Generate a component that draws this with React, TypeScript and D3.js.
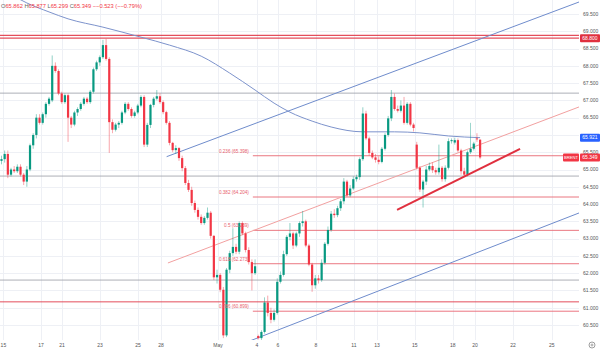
import React from "react";
import * as d3 from "d3";

// 4h candles, Brent, [open, high, low, close]
const ohlc: number[][] = [
  [65.25, 65.4, 65.15, 65.3], [65.3, 65.55, 65.2, 65.45], [65.45, 65.55, 64.75, 64.85],
  [64.85, 65.05, 64.8, 65.0], [65.0, 65.1, 64.9, 64.95], [64.95, 65.15, 64.9, 65.08],
  [65.08, 65.15, 64.8, 64.85], [64.85, 64.9, 64.55, 64.65], [64.65, 65.1, 64.5, 65.0],
  [65.0, 65.75, 64.95, 65.7], [65.7, 66.05, 65.6, 66.0], [66.0, 66.6, 65.9, 66.5],
  [66.5, 66.6, 66.3, 66.35], [66.35, 66.65, 66.3, 66.6], [66.6, 66.95, 66.5, 66.9],
  [66.9, 67.1, 66.85, 67.05], [67.0, 68.3, 66.95, 68.0], [68.0, 68.1, 67.8, 67.85],
  [67.85, 67.9, 67.15, 67.2], [67.2, 67.25, 66.9, 66.95], [66.95, 67.2, 66.9, 67.15],
  [67.15, 67.2, 65.8, 66.5], [66.5, 66.55, 66.2, 66.3], [66.3, 66.7, 66.25, 66.65],
  [66.65, 66.8, 66.55, 66.75], [66.75, 66.95, 66.7, 66.9], [66.9, 67.1, 66.85, 67.05],
  [67.05, 67.1, 66.9, 66.95], [66.95, 67.3, 66.9, 67.25], [67.25, 67.95, 67.2, 67.9],
  [67.9, 68.15, 67.85, 68.1], [68.1, 68.3, 68.0, 68.25], [68.25, 68.75, 68.2, 68.6],
  [68.6, 68.78, 68.15, 68.2], [68.2, 68.25, 65.48, 66.37], [66.37, 66.45, 66.05, 66.15],
  [66.15, 66.35, 66.1, 66.3], [66.3, 66.4, 66.2, 66.35], [66.35, 66.7, 66.3, 66.65],
  [66.65, 66.95, 66.6, 66.9], [66.9, 66.95, 66.7, 66.75], [66.75, 66.8, 66.5, 66.55],
  [66.55, 66.7, 66.5, 66.65], [66.65, 66.9, 66.6, 66.85], [66.85, 67.15, 66.8, 67.1],
  [67.1, 67.15, 65.65, 65.72], [65.72, 66.35, 65.65, 66.29], [66.29, 66.9, 66.2, 66.87],
  [66.87, 67.1, 66.8, 67.05], [67.05, 67.3, 67.0, 67.12], [67.12, 67.2, 66.9, 66.95],
  [66.95, 67.0, 66.6, 66.66], [66.66, 66.7, 66.3, 66.35], [66.35, 66.4, 65.7, 65.77],
  [65.77, 65.8, 65.5, 65.56], [65.56, 65.7, 65.45, 65.62], [65.62, 65.65, 65.25, 65.33],
  [65.33, 65.4, 64.95, 65.04], [65.04, 65.1, 64.55, 64.61], [64.61, 64.7, 64.35, 64.41],
  [64.41, 64.5, 63.95, 64.03], [64.03, 64.1, 63.75, 63.83], [63.83, 63.9, 63.55, 63.63],
  [63.63, 63.7, 63.4, 63.45], [63.45, 63.65, 63.4, 63.6], [63.6, 63.9, 63.55, 63.75],
  [63.75, 63.8, 63.0, 63.08], [63.08, 63.1, 61.8, 61.88], [61.88, 62.1, 61.7, 61.95],
  [61.95, 62.0, 61.45, 61.52], [61.52, 61.6, 60.12, 60.2], [60.2, 62.15, 60.15, 62.1],
  [62.1, 62.65, 62.0, 62.58], [62.58, 63.3, 62.5, 62.76], [62.76, 62.85, 62.55, 62.62],
  [62.62, 63.5, 62.55, 63.45], [63.45, 63.5, 63.1, 63.15], [63.15, 63.2, 62.6, 62.67],
  [62.67, 62.75, 62.25, 62.32], [62.32, 62.4, 61.5, 62.0], [62.0, 62.4, 61.95, 62.2],
  [60.18, 60.22, 60.08, 60.12], [60.12, 60.35, 60.05, 60.3], [60.3, 61.3, 60.25, 61.15],
  [61.15, 61.35, 60.75, 60.85], [60.85, 61.0, 60.55, 60.65], [60.65, 60.95, 60.6, 60.85],
  [60.85, 61.85, 60.8, 61.75], [61.75, 62.05, 61.7, 61.95], [61.95, 62.65, 61.9, 62.55],
  [62.55, 63.1, 62.5, 63.05], [63.05, 63.45, 62.95, 63.15], [63.15, 63.2, 62.7, 62.8],
  [62.8, 63.2, 62.75, 63.15], [63.15, 63.5, 63.05, 63.45], [63.45, 63.8, 63.35, 63.5],
  [63.5, 63.55, 62.75, 62.8], [62.8, 62.85, 62.2, 62.25], [62.25, 62.3, 61.46, 61.65],
  [61.65, 61.95, 61.55, 61.85], [61.85, 61.95, 61.7, 61.8], [61.8, 62.4, 61.75, 62.3],
  [62.3, 62.9, 62.25, 62.85], [62.85, 63.35, 62.8, 63.25], [63.25, 63.8, 63.2, 63.72],
  [63.72, 63.85, 63.6, 63.68], [63.68, 63.95, 63.62, 63.88], [63.88, 64.15, 63.8, 64.08],
  [64.08, 64.75, 64.0, 64.65], [64.65, 64.7, 64.2, 64.25], [64.25, 64.55, 64.2, 64.45],
  [64.45, 64.8, 64.4, 64.72], [64.72, 64.85, 64.65, 64.78], [64.78, 65.35, 64.7, 65.3],
  [65.3, 66.8, 65.25, 66.62], [66.62, 66.7, 65.85, 65.9], [65.9, 65.95, 65.4, 65.48],
  [65.48, 65.55, 65.3, 65.35], [65.35, 65.45, 65.2, 65.28], [65.28, 65.38, 65.15, 65.22],
  [65.22, 65.65, 65.18, 65.6], [65.6, 66.05, 65.55, 66.0], [66.0, 66.55, 65.95, 66.48],
  [66.48, 67.3, 66.4, 67.1], [67.1, 67.2, 66.7, 66.75], [66.75, 66.85, 66.65, 66.7],
  [66.7, 67.0, 66.65, 66.85], [66.85, 67.1, 66.3, 66.35], [66.35, 66.95, 66.3, 66.9],
  [66.9, 66.95, 66.25, 66.3], [66.3, 66.35, 66.1, 66.2], [65.72, 65.8, 65.0, 65.05],
  [65.05, 65.1, 64.35, 64.42], [64.42, 64.7, 63.9, 64.65], [64.65, 65.1, 64.55, 65.0],
  [65.0, 65.2, 64.95, 65.1], [65.1, 65.2, 64.9, 64.98], [64.98, 65.05, 64.85, 64.92],
  [64.92, 65.72, 64.85, 65.05], [65.05, 65.1, 64.65, 64.72], [64.72, 65.12, 64.65, 65.05],
  [65.05, 65.9, 65.0, 65.82], [65.82, 65.9, 65.75, 65.85], [65.78, 65.92, 65.72, 65.85],
  [65.85, 65.9, 65.5, 65.55], [65.55, 65.6, 64.85, 64.95], [64.95, 65.05, 64.78, 64.85],
  [64.85, 65.55, 64.8, 65.5], [65.5, 66.35, 65.45, 65.6], [65.6, 65.8, 65.55, 65.75],
  [65.9, 66.05, 65.8, 65.872], [65.862, 65.877, 65.299, 65.349],
];

// moving average, read at a few bars
const maIndex = [5, 8, 15, 21, 32, 44, 53, 63, 72, 80, 86, 91, 98, 104, 114, 124, 132, 141, 151];
const maValue = [69.96, 69.82, 69.56, 69.36, 69.12, 68.83, 68.6, 68.28, 67.79, 67.3, 66.92, 66.66, 66.4, 66.23, 66.09, 66.09, 66.06, 65.97, 65.921];

const dayLabels = ["15", "17", "21", "23", "25", "28", "May", "4", "6", "8", "11", "13", "15", "18", "20", "22", "25"];
const dayIndex = [0.6, 12.5, 19.1, 31.1, 43.1, 50.3, 68.3, 80.6, 87.2, 99.2, 111.2, 118.5, 130.4, 142.4, 149.4, 161.4, 173.6];

const priceTicks = d3.range(60.5, 69.51, 0.5);

const fibRatios = ["0.236", "0.382", "0.5", "0.618", "0.786"];
const fibPrices = [65.398, 64.204, 63.239, 62.273, 60.899];
const fibStart = 79.3;

const grayLevels = [67.21, 64.81, 61.8];
const redLevels = [68.88, 68.8, 61.17];
const alertPrice = 68.8;

// trend lines as [bar index, price]
const upperChannel = [[52.1, 65.371], [182.2, 69.847]];
const midChannel = [[52.5, 62.295], [182.2, 66.81]];
const lowerChannel = [[78.4, 60.04], [182.2, 63.742]];
const supportLine = [[124.8, 63.829], [163.6, 65.594]];

const UP = "#089981";
const DOWN = "#f23645";
const plotW = 579;
const plotH = 340;

const x = d3.scaleLinear().domain([0, 182.2]).range([1.5, 579]);
const y = d3.scaleLinear().domain([60.5, 69.5]).range([325, 14]);

const seg = d3.line<number[]>().x((d) => x(d[0])).y((d) => y(d[1]));

export default function App() {
  const last = ohlc[ohlc.length - 1];
  const prev = ohlc[ohlc.length - 2];
  const chg = last[3] - prev[3];
  const pct = (chg / prev[3]) * 100;
  const maLast = maValue[maValue.length - 1];
  const f3 = d3.format(".3f");
  const sgn = (v: number, s: string) => (v < 0 ? "\u2212" + s.replace("-", "") : "+" + s);

  const maPath = d3
    .line<number>()
    .x((d, i) => x(maIndex[i]))
    .y((d) => y(d))
    .curve(d3.curveMonotoneX)(maValue);

  // axis labels hidden behind the price boxes
  const boxes = [alertPrice, maLast, last[3]];
  const axisTicks = priceTicks.filter((p) => boxes.every((b) => Math.abs(y(p) - y(b)) > 5));

  const font = "'Liberation Sans', Arial, sans-serif";

  return (
    <svg
      width={600}
      height={353}
      style={{ position: "absolute", left: 0, top: 0, background: "#fff" }}
      fontFamily={font}
    >
      <defs>
        <clipPath id="plot">
          <rect x={0} y={0} width={plotW} height={plotH} />
        </clipPath>
      </defs>
      <rect width={600} height={353} fill="#fff" />

      {/* grid */}
      <g stroke="#eef0f5" strokeWidth={1}>
        {priceTicks.map((p) => (
          <line key={"h" + p} x1={0} x2={plotW} y1={Math.round(y(p)) + 0.5} y2={Math.round(y(p)) + 0.5} />
        ))}
        {dayIndex.map((d, i) => (
          <line key={"v" + i} x1={Math.round(x(d)) + 0.5} x2={Math.round(x(d)) + 0.5} y1={0} y2={plotH} />
        ))}
      </g>

      <g clipPath="url(#plot)">
        {/* horizontal levels */}
        {grayLevels.map((p) => (
          <line key={"g" + p} x1={0} x2={plotW} y1={y(p)} y2={y(p)} stroke="#9a9ca6" strokeWidth={1} opacity={0.8} />
        ))}
        {redLevels.map((p, i) => (
          <line key={"r" + p} x1={0} x2={plotW} y1={y(p)} y2={y(p)} stroke="#e03040" strokeWidth={i < 2 ? 1.2 : 1} opacity={0.85} />
        ))}
        {fibPrices.map((p) => (
          <line key={"f" + p} x1={x(fibStart)} x2={plotW} y1={y(p)} y2={y(p)} stroke="#e8606c" strokeWidth={1} opacity={0.85} />
        ))}

        {/* moving average */}
        <path d={maPath || ""} fill="none" stroke="#7d93cc" strokeWidth={1} />

        {/* channel lines */}
        <path d={seg(upperChannel) || ""} stroke="#6f8ccc" strokeWidth={1} fill="none" />
        <path d={seg(lowerChannel) || ""} stroke="#6f8ccc" strokeWidth={1} fill="none" />
        <path d={seg(midChannel) || ""} stroke="#f2a0a0" strokeWidth={1} fill="none" />

        {/* candles */}
        {ohlc.map((c, i) => {
          const [o, h, l, cl] = c;
          const col = cl >= o ? UP : DOWN;
          const cx = x(i);
          const top = y(Math.max(o, cl));
          const bh = Math.max(1, y(Math.min(o, cl)) - top);
          return (
            <g key={i}>
              <line x1={cx} x2={cx} y1={y(h)} y2={y(l)} stroke={col} strokeWidth={0.8} opacity={0.55} />
              <rect x={cx - 1.1} y={top} width={2.2} height={bh} fill={col} />
            </g>
          );
        })}

        {/* support line */}
        <path d={seg(supportLine) || ""} stroke="#e0303f" strokeWidth={2} fill="none" />
      </g>

      {/* fib labels */}
      {fibPrices.map((p, i) => (
        <text key={"fl" + p} x={x(fibStart) - 4} y={y(p) - 3} fontSize={4.6} fill="#e8606c" textAnchor="end">
          {fibRatios[i]} ({f3(p)})
        </text>
      ))}

      {/* price axis */}
      {axisTicks.map((p) => (
        <text key={"pt" + p} x={583} y={y(p) + 1.8} fontSize={5} fill="#555">
          {f3(p)}
        </text>
      ))}

      {/* time axis */}
      {dayLabels.map((d, i) => (
        <text key={"dt" + i} x={x(dayIndex[i])} y={347} fontSize={5} fill="#555" textAnchor="middle">
          {d}
        </text>
      ))}

      {/* price boxes */}
      <rect x={580} y={y(alertPrice) - 4} width={20} height={8} fill="#e0303f" rx={1} />
      <text x={590} y={y(alertPrice) + 1.8} fontSize={5} fill="#fff" textAnchor="middle">{f3(alertPrice)}</text>

      <rect x={580} y={y(maLast) - 4} width={20} height={8} fill="#2962ff" rx={1} />
      <text x={590} y={y(maLast) + 1.8} fontSize={5} fill="#fff" textAnchor="middle">
        {f3(maLast)}
      </text>

      <rect x={563} y={y(last[3]) - 4} width={16} height={8} fill={DOWN} rx={1} />
      <text x={571} y={y(last[3]) + 1.6} fontSize={4.2} fill="#fff" textAnchor="middle">BRENT</text>
      <rect x={580} y={y(last[3]) - 4} width={20} height={8} fill={DOWN} rx={1} />
      <text x={590} y={y(last[3]) + 1.8} fontSize={5} fill="#fff" textAnchor="middle">{f3(last[3])}</text>

      {/* legend */}
      <text x={1} y={7.5} fontSize={5.7}>
        <tspan fill="#666">O</tspan>
        <tspan fill={DOWN}>{f3(last[0])}</tspan>
        <tspan fill="#666"> H</tspan>
        <tspan fill={DOWN}>{f3(last[1])}</tspan>
        <tspan fill="#666"> L</tspan>
        <tspan fill={DOWN}>{f3(last[2])}</tspan>
        <tspan fill="#666"> C</tspan>
        <tspan fill={DOWN}>{f3(last[3])}</tspan>
        <tspan fill={DOWN}>
          {" "}
          {sgn(chg, f3(chg))} ({sgn(pct, d3.format(".2f")(pct))}%)
        </tspan>
      </text>

      {/* settings icon */}
      <circle cx={592} cy={345} r={3} fill="none" stroke="#777" strokeWidth={0.7} />
      <circle cx={592} cy={345} r={1} fill="none" stroke="#777" strokeWidth={0.6} />
    </svg>
  );
}
